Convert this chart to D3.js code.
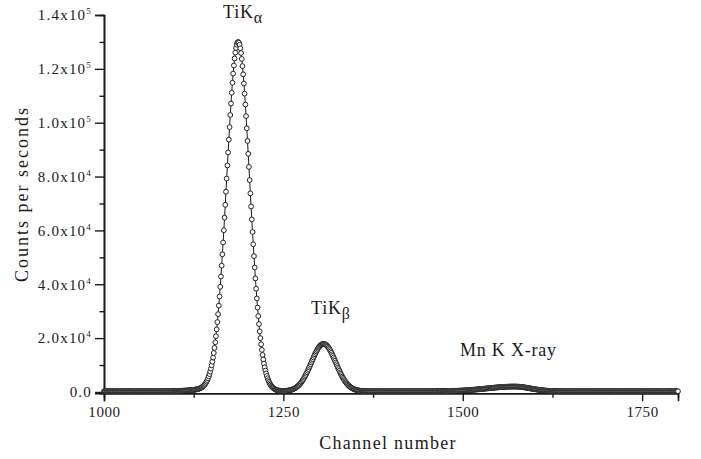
<!DOCTYPE html>
<html>
<head>
<meta charset="utf-8">
<style>
  body { margin: 0; background: #fff; }
  svg text { font-family: "Liberation Serif", "Times New Roman", serif; fill: #1a1a1a; }
</style>
</head>
<body>
<script src="https://d3js.org/d3.v7.min.js"></script>
<script>
// spectrum: one value per channel, starting at firstChannel
var firstChannel = 1000;
var counts = [
  262, 248, 255, 241, 270, 258, 236, 251, 266, 244,   // 1000
  259, 247, 238, 263, 252, 269, 243, 256, 249, 261,
  240, 257, 265, 246, 253, 238, 268, 251, 244, 260,
  255, 242, 263, 249, 257, 271, 246, 252, 239, 264,
  250, 258, 245, 267, 253, 241, 260, 256, 248, 263,
  257, 244, 266, 251, 259, 247, 262, 254, 270, 249,   // 1050
  261, 255, 246, 268, 258, 252, 264, 249, 271, 257,
  263, 254, 269, 258, 250, 272, 261, 266, 255, 274,
  262, 270, 259, 276, 265, 271, 268, 279, 264, 282,
  273, 285, 278, 290, 283, 296, 289, 301, 295, 310,
  330, 340, 350, 360, 370, 380, 396, 412, 428, 444,   // 1100
  460, 478, 496, 514, 532, 550, 568, 586, 604, 622,
  640, 682, 706, 731, 759, 791, 824, 861, 905, 956,
  1016, 1084, 1165, 1260, 1372, 1507, 1662, 1848, 2066, 2323,
  2625, 2976, 3386, 3864, 4418, 5055, 5785, 6620, 7572, 8650,
  9870, 11236, 12767, 14470, 16360, 18444, 20733, 23233, 25950, 28896,   // 1150
  32064, 35450, 39058, 42880, 46907, 51126, 55517, 60060, 64738, 69510,
  74355, 79242, 84129, 88973, 93732, 98374, 102851, 107113, 111125, 114843,
  118227, 121241, 123852, 126031, 127752, 128996, 129748, 130000, 129728, 128936,
  127652, 125891, 123672, 121021, 117967, 114543, 110785, 106733, 102431, 97914,
  93232, 88449, 83581, 78670, 73759, 68890, 64102, 59408, 54849, 50442,   // 1200
  46207, 42172, 38342, 34726, 31332, 28159, 25214, 22498, 19999, 17711,
  15628, 13741, 12041, 10513, 9150, 7936, 6864, 5918, 5089, 4365,
  3736, 3190, 2720, 2318, 1975, 1683, 1436, 1228, 1052, 907,
  784, 684, 601, 532, 476, 458, 428, 405, 392, 384,
  382, 383, 394, 416, 430, 465, 495, 545, 595, 655,   // 1250
  715, 795, 885, 985, 1095, 1225, 1365, 1535, 1715, 1915,
  2135, 2375, 2645, 2935, 3255, 3605, 3975, 4375, 4795, 5255,
  5725, 6235, 6765, 7315, 7885, 8475, 9075, 9685, 10315, 10935,
  11565, 12185, 12805, 13405, 13985, 14545, 15065, 15565, 16025, 16435,
  16805, 17115, 17385, 17595, 17745, 17835, 17865, 17830, 17740, 17590,   // 1300
  17380, 17110, 16800, 16430, 16020, 15560, 15060, 14540, 13980, 13400,
  12800, 12180, 11560, 10930, 10310, 9680, 9070, 8470, 7880, 7310,
  6760, 6230, 5720, 5250, 4790, 4370, 3970, 3600, 3250, 2930,
  2640, 2370, 2130, 1910, 1710, 1530, 1360, 1220, 1090, 980,
  880, 790, 710, 650, 590, 540, 490, 460, 420, 400,   // 1350
  370, 350, 335, 320, 310, 300, 292, 285, 280, 276,
  272, 268, 261, 266, 258, 263, 255, 260, 252, 264,
  257, 262, 250, 259, 266, 254, 261, 248, 263, 256,
  260, 253, 267, 258, 251, 262, 256, 264, 249, 259,
  263, 255, 260, 252, 266, 257, 261, 250, 258, 264,   // 1400
  254, 262, 257, 249, 265, 259, 253, 261, 256, 263,
  251, 258, 264, 255, 260, 248, 262, 257, 253, 266,
  259, 254, 261, 256, 263, 250, 258, 265, 255, 260,
  257, 262, 252, 266, 259, 254, 263, 258, 261, 256,
  264, 259, 266, 261, 268, 263, 270, 266, 272, 269,   // 1450
  270, 278, 286, 289, 292, 294, 298, 301, 304, 307,
  311, 313, 315, 320, 324, 330, 333, 337, 343, 349,
  354, 360, 366, 375, 383, 392, 397, 403, 412, 422,
  432, 441, 451, 462, 474, 486, 498, 510, 524, 538,
  553, 567, 581, 598, 615, 632, 648, 665, 685, 704,   // 1500
  724, 743, 763, 785, 807, 830, 852, 874, 898, 923,
  947, 972, 996, 1022, 1049, 1075, 1102, 1128, 1156, 1184,
  1211, 1239, 1266, 1293, 1321, 1350, 1377, 1405, 1432, 1460,
  1487, 1515, 1542, 1567, 1593, 1618, 1644, 1669, 1692, 1715,
  1738, 1761, 1784, 1803, 1822, 1841, 1860, 1879, 1893, 1907,   // 1550
  1922, 1936, 1950, 1959, 1968, 1977, 1986, 1995, 1998, 2001,
  2004, 2007, 2010, 2008, 2003, 1992, 1981, 1964, 1946, 1922,
  1898, 1868, 1838, 1803, 1768, 1729, 1689, 1646, 1603, 1558,
  1512, 1465, 1418, 1370, 1321, 1273, 1225, 1178, 1130, 1085,
  1039, 995, 951, 910, 868, 829, 790, 755, 719, 687,   // 1600
  654, 625, 595, 569, 543, 520, 497, 477, 457, 440,
  422, 407, 392, 380, 369, 357, 346, 338, 330, 322,
  314, 309, 304, 298, 293, 290, 286, 282, 279, 277,
  275, 273, 271, 268, 266, 263, 265, 260, 262, 258,
  264, 257, 261, 255, 263, 259, 252, 266, 258, 261,   // 1650
  254, 262, 257, 265, 250, 260, 256, 263, 259, 253,
  266, 258, 261, 255, 262, 257, 249, 264, 260, 256,
  263, 251, 259, 265, 254, 261, 257, 262, 250, 258,
  264, 256, 260, 253, 267, 259, 255, 262, 257, 261,
  252, 266, 258, 263, 256, 260, 249, 264, 257, 261,   // 1700
  255, 263, 259, 252, 265, 258, 261, 254, 262, 257,
  260, 251, 264, 258, 255, 262, 259, 266, 253, 260,
  257, 263, 250, 261, 258, 264, 255, 259, 262, 256,
  261, 253, 266, 258, 260, 255, 263, 257, 251, 262,
  259, 264, 256, 261, 254, 260, 265, 257, 262, 252,   // 1750
  258, 263, 255, 261, 259, 266, 253, 260, 257, 262,
  256, 264, 251, 259, 263, 257, 261, 254, 265, 258,
  262, 255, 260, 253, 264, 258, 261, 256, 263, 250,
  259, 265, 257, 262, 254, 260, 258, 263, 256, 261,
  259
];

var xTicks = [1000, 1250, 1500, 1750];
var xMinorTicks = [1125, 1375, 1625];
var yTicks = [0, 20000, 40000, 60000, 80000, 100000, 120000, 140000];
var yMinorTicks = [10000, 30000, 50000, 70000, 90000, 110000, 130000];
var yMantissa = ["0.0", "2.0", "4.0", "6.0", "8.0", "1.0", "1.2", "1.4"];
var yExponent = ["", "4", "4", "4", "4", "5", "5", "5"];

var peakNames = ["TiK", "TiK", "Mn K X-ray"];
var peakSubs = ["\u03b1", "\u03b2", ""];

var W = 701, H = 459;
var svg = d3.select("body").append("svg")
    .attr("width", W).attr("height", H);

var x = d3.scaleLinear().domain([1000, 1800]).range([104, 678]);
var y = d3.scaleLinear().domain([-500, 140000]).range([393.3, 15]);

var data = counts.map(function(c, i) { return {ch: firstChannel + i, v: c}; });

var ink = "#1a1a1a";

// axes
var gx = svg.append("g").attr("transform", "translate(0," + y(-500) + ")");
gx.call(d3.axisBottom(x).tickValues(xTicks).tickSize(8).tickPadding(5).tickFormat(d3.format("d")));
gx.append("g").call(d3.axisBottom(x).tickValues(xMinorTicks).tickSize(4.5).tickFormat(""));

var gy = svg.append("g").attr("transform", "translate(" + x(1000) + ",0)");
gy.call(d3.axisLeft(y).tickValues(yTicks).tickSize(9).tickFormat(""));
gy.append("g").call(d3.axisLeft(y).tickValues(yMinorTicks).tickSize(4.5).tickFormat(""));

svg.selectAll(".domain").attr("stroke", ink).attr("stroke-width", 1.6);
svg.selectAll(".tick line").attr("stroke", ink).attr("stroke-width", 1.4);
gx.selectAll(".tick text")
    .style("font-family", "Liberation Serif")
    .style("font-size", "15px")
    .style("letter-spacing", "0.6px")
    .attr("fill", ink);

// y labels like 1.4x10^5
var yl = svg.append("g");
yTicks.forEach(function(t, i) {
  var tx = yl.append("text")
      .attr("x", 92).attr("y", y(t) + 5.3)
      .attr("text-anchor", "end")
      .style("font-size", "15px")
      .style("letter-spacing", "1.2px");
  if (yExponent[i]) {
    tx.append("tspan").text(yMantissa[i] + "x10");
    tx.append("tspan").attr("dy", -6).style("font-size", "9px").text(yExponent[i]);
  } else {
    tx.text(yMantissa[i]);
  }
});

// connecting line then open circles
svg.append("path").datum(data)
    .attr("fill", "none").attr("stroke", ink).attr("stroke-width", 1)
    .attr("d", d3.line().x(function(d) { return x(d.ch); }).y(function(d) { return y(d.v); }));

svg.append("g").selectAll("circle").data(data).enter().append("circle")
    .attr("cx", function(d) { return x(d.ch); })
    .attr("cy", function(d) { return y(d.v); })
    .attr("r", 2.4)
    .attr("fill", "#fff")
    .attr("stroke", "#222")
    .attr("stroke-width", 1);

// axis titles
svg.append("text")
    .attr("x", 388).attr("y", 449)
    .attr("text-anchor", "middle")
    .style("font-size", "18px").style("letter-spacing", "1.3px")
    .text("Channel number");
svg.append("text")
    .attr("transform", "translate(28,194) rotate(-90)")
    .attr("text-anchor", "middle")
    .style("font-size", "18px").style("letter-spacing", "2px")
    .text("Counts per seconds");

// peak labels (anchor in data units)
var labelAt = [[1166, 139000], [1288.5, 28950], [1496, 13350]];
peakNames.forEach(function(name, i) {
  var t = svg.append("text")
      .attr("x", x(labelAt[i][0])).attr("y", y(labelAt[i][1]))
      .style("font-size", "18px").style("letter-spacing", "0.8px");
  t.append("tspan").text(name);
  if (peakSubs[i]) t.append("tspan").attr("dy", 5).style("font-size", "16px").text(peakSubs[i]);
});
</script>
</body>
</html>
